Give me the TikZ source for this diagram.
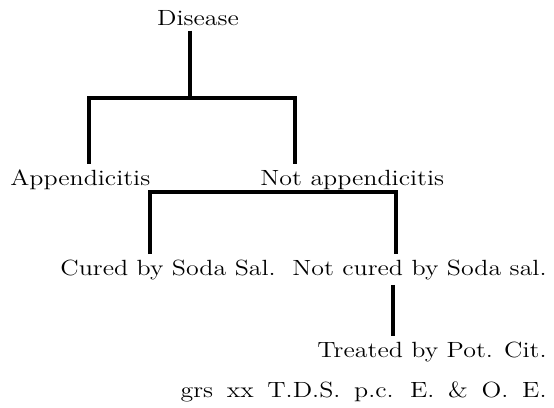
\documentclass[tikz,border=0pt]{standalone}
\usepackage{graphicx}
\newcommand{\stretched}[1]{\scalebox{1.18}[1]{#1}}

\begin{document}
\begin{tikzpicture}[
  x = 0.5pt, y = 0.5pt,
  rule/.style = {draw, line width=1.7pt},
  word/.style = {font=\fontsize{11}{13}\selectfont, inner sep=2.5pt},
  loose/.style = {execute at begin node={\spaceskip=5.8pt plus 1pt}},
]

\useasboundingbox (0,0) rectangle (554,-408);

\node[word, anchor=base] (disease) at (198,-25) {\stretched{Disease}};

\foreach \name/\x/\y/\label in {%
    append/5/-185/{Appendicitis},
    notappend/255/-185/{Not appendicitis},
    cured/55/-275/{Cured by Soda Sal.}%
  }{%
    \node[word, anchor=base west] (\name) at (\x, \y) {\stretched{\label}};
  }

\foreach \name/\y/\label in {%
    notcured/-275/{Not cured by Soda sal.},
    treated/-357/{Treated by Pot. Cit.}%
  }{%
    \node[word, anchor=base east] (\name) at (552, \y) {\stretched{\label}};
  }
\node[word, loose, anchor=base east] (dose) at (552,-397)
  {\stretched{grs xx T.D.S. p.c. E. \& O. E.}};

% bar ends
\coordinate (top left)  at (89,-98);
\coordinate (top right) at (295,-98);
\coordinate (mid left)  at (150,-192);
\coordinate (mid right) at (396,-192);
\coordinate (stem)      at (393,0);

\draw[rule] ([xshift=-4pt]disease.south) -- ([xshift=-4pt]disease.south |- top left);
\draw[rule] (top left |- append.north) -- (top left) -- (top right)
  -- (top right |- notappend.north);
\draw[rule] (mid left |- cured.north) -- (mid left) -- (mid right)
  -- (mid right |- notcured.north);
\draw[rule] (stem |- notcured.south) -- (stem |- treated.north);

\end{tikzpicture}
\end{document}
